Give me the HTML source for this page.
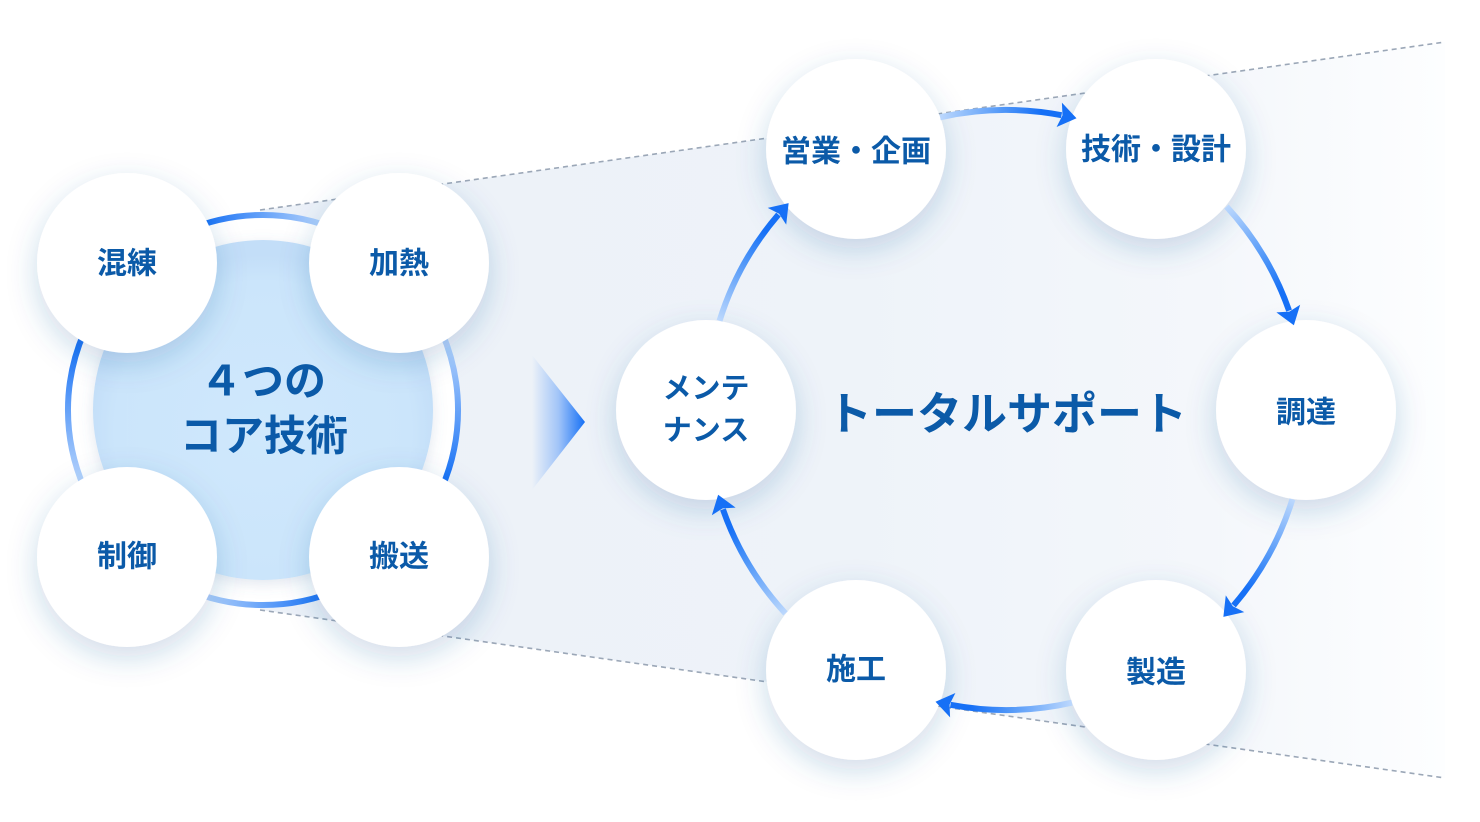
<!DOCTYPE html>
<html><head><meta charset="utf-8">
<style>
html,body{margin:0;padding:0;background:#fff;}
svg{display:block;}
text{font-family:"Liberation Sans","Noto Sans CJK JP",sans-serif;font-weight:700;fill:#0b5aa8;}
</style></head>
<body>
<svg width="1480" height="822" viewBox="0 0 1480 822" xmlns="http://www.w3.org/2000/svg">
<defs>
  <linearGradient id="trap" gradientUnits="userSpaceOnUse" x1="260" y1="0" x2="1445" y2="0">
    <stop offset="0" stop-color="#ecf1f8"/>
    <stop offset="0.5" stop-color="#eef3f9"/>
    <stop offset="0.8" stop-color="#f4f7fb"/>
    <stop offset="1" stop-color="#fdfeff"/>
  </linearGradient>
  <linearGradient id="tri" gradientUnits="userSpaceOnUse" x1="532" y1="0" x2="585" y2="0">
    <stop offset="0" stop-color="#1570f6" stop-opacity="0"/>
    <stop offset="0.5" stop-color="#1570f6" stop-opacity="0.35"/>
    <stop offset="1" stop-color="#1570f6" stop-opacity="1"/>
  </linearGradient>
  <linearGradient id="rTop" gradientUnits="userSpaceOnUse" x1="205" y1="0" x2="322" y2="0">
    <stop offset="0" stop-color="#1a73f5"/><stop offset="1" stop-color="#b3d2fc"/>
  </linearGradient>
  <linearGradient id="rRight" gradientUnits="userSpaceOnUse" x1="0" y1="345" x2="0" y2="478">
    <stop offset="0" stop-color="#b3d2fc"/><stop offset="1" stop-color="#1a73f5"/>
  </linearGradient>
  <linearGradient id="rBot" gradientUnits="userSpaceOnUse" x1="205" y1="0" x2="322" y2="0">
    <stop offset="0" stop-color="#b3d2fc"/><stop offset="1" stop-color="#1a73f5"/>
  </linearGradient>
  <linearGradient id="rLeft" gradientUnits="userSpaceOnUse" x1="0" y1="345" x2="0" y2="478">
    <stop offset="0" stop-color="#1a73f5"/><stop offset="1" stop-color="#b3d2fc"/>
  </linearGradient>
  <linearGradient id="arr" gradientUnits="userSpaceOnUse" x1="940" y1="117" x2="1070" y2="117">
    <stop offset="0" stop-color="#bcd8fd"/>
    <stop offset="0.5" stop-color="#4d95f8"/>
    <stop offset="0.78" stop-color="#1670f6"/>
    <stop offset="1" stop-color="#1670f6"/>
  </linearGradient>
  <radialGradient id="core" cx="263" cy="430" r="175" gradientUnits="userSpaceOnUse">
    <stop offset="0" stop-color="#cfe8fc"/>
    <stop offset="0.85" stop-color="#cbe5fb"/>
    <stop offset="1" stop-color="#c3def8"/>
  </radialGradient>
  <filter id="sh" x="-30%" y="-30%" width="160%" height="160%">
    <feDropShadow dx="0" dy="10" stdDeviation="15" flood-color="#2b5a9a" flood-opacity="0.22"/>
  </filter>
  <filter id="sh2" x="-30%" y="-30%" width="160%" height="160%">
    <feDropShadow dx="0" dy="4" stdDeviation="7" flood-color="#5a7ba8" flood-opacity="0.18"/>
  </filter>
  <g id="a0">
    <path d="M 940.1 117.3 A 300 300 0 0 1 1061.5 115.2" fill="none" stroke="url(#arr)" stroke-width="6"/>
    <polygon points="1076.5,118.3 1061.9,102.6 1062.5,115.4 1056.6,127.0" fill="#1670f6"/>
  </g>
</defs>

<!-- trapezoid background -->
<polygon points="260,210 1445,42 1445,778 260,610" fill="url(#trap)"/>
<line x1="260" y1="210" x2="1445" y2="42" stroke="#9ba7b7" stroke-width="1.6" stroke-dasharray="5 4"/>
<line x1="260" y1="610" x2="1445" y2="778" stroke="#9ba7b7" stroke-width="1.6" stroke-dasharray="5 4"/>

<!-- left core group -->
<circle cx="263" cy="410" r="193" fill="#ffffff"/>
<path d="M 125.1 272.1 A 195 195 0 0 1 400.9 272.1" fill="none" stroke="url(#rTop)" stroke-width="6"/>
<path d="M 400.9 272.1 A 195 195 0 0 1 400.9 547.9" fill="none" stroke="url(#rRight)" stroke-width="6"/>
<path d="M 400.9 547.9 A 195 195 0 0 1 125.1 547.9" fill="none" stroke="url(#rBot)" stroke-width="6"/>
<path d="M 125.1 547.9 A 195 195 0 0 1 125.1 272.1" fill="none" stroke="url(#rLeft)" stroke-width="6"/>
<circle cx="263" cy="410" r="170" fill="url(#core)" filter="url(#sh2)"/>

<!-- big arrow triangle -->
<polygon points="532,355 585,422 532,490" fill="url(#tri)"/>

<!-- node circles -->
<g filter="url(#sh)" fill="#ffffff">
  <circle cx="127" cy="263" r="90"/>
  <circle cx="399" cy="263" r="90"/>
  <circle cx="127" cy="557" r="90"/>
  <circle cx="399" cy="557" r="90"/>
  <circle cx="856" cy="149" r="90"/>
  <circle cx="1156" cy="149" r="90"/>
  <circle cx="1306" cy="410" r="90"/>
  <circle cx="1156" cy="670" r="90"/>
  <circle cx="856" cy="670" r="90"/>
  <circle cx="706" cy="410" r="90"/>
</g>

<!-- cycle arrows -->
<use href="#a0"/>
<use href="#a0" transform="rotate(60 1006 410)"/>
<use href="#a0" transform="rotate(120 1006 410)"/>
<use href="#a0" transform="rotate(180 1006 410)"/>
<use href="#a0" transform="rotate(240 1006 410)"/>
<use href="#a0" transform="rotate(300 1006 410)"/>

<!-- labels -->
<g font-size="30" text-anchor="middle" dominant-baseline="central">
  <text x="127" y="264">混練</text>
  <text x="399" y="264">加熱</text>
  <text x="127" y="557">制御</text>
  <text x="399" y="557">搬送</text>
  <text x="856" y="152">営業・企画</text>
  <text x="1156" y="150">技術・設計</text>
  <text x="1306" y="413">調達</text>
  <text x="1156" y="673">製造</text>
  <text x="856" y="670">施工</text>
  <text x="706" y="389" font-size="29">メンテ</text>
  <text x="706" y="431" font-size="29">ナンス</text>
</g>
<g text-anchor="middle" dominant-baseline="central">
  <text x="263" y="381" font-size="42">４つの</text>
  <text x="264" y="436" font-size="42">コア技術</text>
  <text x="1007" y="414" font-size="45">トータルサポート</text>
</g>
</svg>
</body></html>
